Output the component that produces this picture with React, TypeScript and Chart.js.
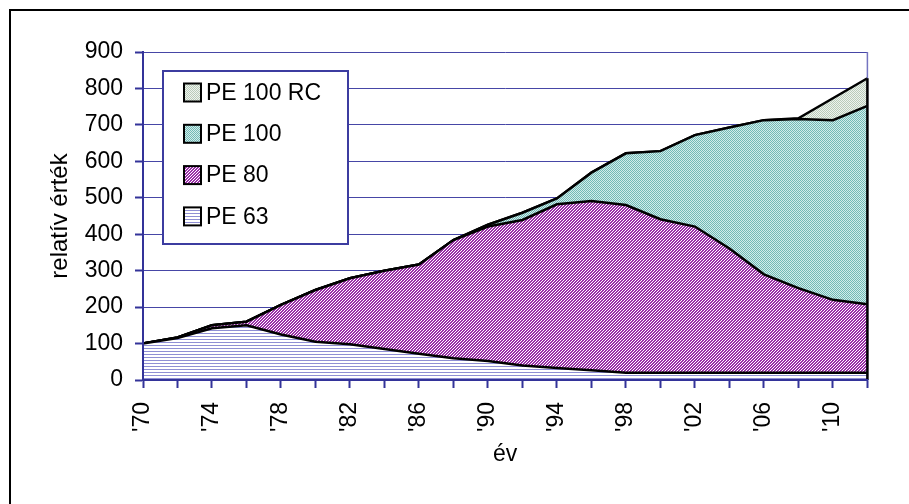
import React, { useEffect, useRef } from "react";
import { Chart, registerables } from "chart.js";

Chart.register(...registerables);

const categories = ["'70", "'72", "'74", "'76", "'78", "'80", "'82", "'84", "'86", "'88", "'90", "'92", "'94", "'96", "'98", "'00", "'02", "'04", "'06", "'08", "'10", "'12"];
const pe63 = [100, 115, 142, 150, 125, 105, 98, 85, 72, 60, 52, 40, 33, 27, 20, 20, 20, 20, 20, 20, 20, 20];
const pe80 = [0, 2, 8, 10, 81, 142, 181, 215, 245, 324, 369, 399, 449, 464, 460, 421, 401, 341, 270, 232, 200, 188];
const pe100 = [0, 0, 0, 0, 0, 0, 0, 0, 0, 0, 5, 20, 16, 78, 142, 187, 251, 332, 423, 464, 493, 544];
const pe100rc = [0, 0, 0, 0, 0, 0, 0, 0, 0, 0, 0, 0, 0, 0, 0, 0, 0, 0, 0, 2, 60, 76];
const seriesNames = ["PE 63", "PE 80", "PE 100", "PE 100 RC"];
const yTickMin = 0;
const yTickMax = 900;
const yTickStep = 100;

const FONT = "'Liberation Sans', Arial, sans-serif";
const AXIS_BLUE = "#333399";

function makePattern(kind: string): CanvasPattern | string {
  const t = document.createElement("canvas");
  const c = t.getContext("2d");
  if (!c) return "#ccc";
  if (kind === "h") {
    t.width = 3; t.height = 3;
    c.fillStyle = "#ffffff"; c.fillRect(0, 0, 3, 3);
    c.fillStyle = "#8f8fd4"; c.fillRect(0, 0, 3, 1);
  } else if (kind === "d") {
    t.width = 3; t.height = 3;
    c.fillStyle = "#ffffff"; c.fillRect(0, 0, 3, 3);
    c.fillStyle = "#9a30a8";
    for (let x = 0; x < 3; x++) for (let y = 0; y < 3; y++) if ((x + y) % 3 !== 0) c.fillRect(x, y, 1, 1);
  } else if (kind === "t") {
    t.width = 2; t.height = 2;
    c.fillStyle = "#d2ecea"; c.fillRect(0, 0, 2, 2);
    c.fillStyle = "#72bab6"; c.fillRect(0, 0, 1, 1); c.fillRect(1, 1, 1, 1);
  } else {
    t.width = 2; t.height = 2;
    c.fillStyle = "#eef3ee"; c.fillRect(0, 0, 2, 2);
    c.fillStyle = "#b9cbb9"; c.fillRect(0, 0, 1, 1); c.fillRect(1, 1, 1, 1);
  }
  return c.createPattern(t, "repeat") || "#ccc";
}

export default function App() {
  const ref = useRef<HTMLCanvasElement>(null);
  useEffect(() => {
    if (!ref.current) return;
    const pats = [makePattern("h"), makePattern("d"), makePattern("t"), makePattern("g")];
    const values = [pe63, pe80, pe100, pe100rc];

    const overlay = {
      id: "overlay",
      afterDatasetsDraw(chart: any) {
        const { ctx, chartArea: a, scales } = chart;
        const xs = scales.x, ys = scales.y;
        ctx.save();
        ctx.strokeStyle = "#7474c0";
        ctx.lineWidth = 1.5;
        ctx.beginPath();
        ctx.moveTo(a.right, a.top);
        ctx.lineTo(a.right, a.bottom);
        ctx.stroke();
        const last = categories.length - 1;
        const total = values.reduce((s, v) => s + v[last], 0);
        ctx.strokeStyle = "#000";
        ctx.lineWidth = 2.5;
        ctx.beginPath();
        ctx.moveTo(xs.getPixelForValue(last), ys.getPixelForValue(0));
        ctx.lineTo(xs.getPixelForValue(last), ys.getPixelForValue(total));
        ctx.stroke();
        ctx.strokeStyle = AXIS_BLUE;
        ctx.lineWidth = 2;
        ctx.beginPath();
        ctx.moveTo(a.left, a.top);
        ctx.lineTo(a.left, a.bottom);
        ctx.moveTo(a.left, a.bottom);
        ctx.lineTo(a.right + 1, a.bottom);
        ctx.stroke();
        ctx.restore();
      },
      afterDraw(chart: any) {
        const { ctx, chartArea: a } = chart;
        ctx.save();
        ctx.fillStyle = "#000";
        ctx.font = `23px ${FONT}`;
        ctx.textAlign = "center";
        ctx.textBaseline = "alphabetic";
        ctx.fillText("év", (a.left + a.right) / 2, 461);
        ctx.save();
        ctx.font = `24px ${FONT}`;
        ctx.translate(67, (a.top + a.bottom) / 2);
        ctx.rotate(-Math.PI / 2);
        ctx.fillText("relatív érték", 0, 0);
        ctx.restore();
        const lx = a.left + 20, ly = a.top + 19, lw = 185, lh = 173;
        ctx.fillStyle = "#fff";
        ctx.fillRect(lx, ly, lw, lh);
        ctx.strokeStyle = "#3c3ca0";
        ctx.lineWidth = 2;
        ctx.strokeRect(lx, ly, lw, lh);
        ctx.font = `23px ${FONT}`;
        ctx.textAlign = "left";
        ctx.textBaseline = "middle";
        for (let i = 0; i < 4; i++) {
          const si = 3 - i;
          const cy = ly + 21.5 + i * 41.3;
          ctx.fillStyle = pats[si];
          ctx.fillRect(lx + 21, cy - 9, 17, 18);
          ctx.strokeStyle = "#000";
          ctx.lineWidth = 2;
          ctx.strokeRect(lx + 21, cy - 9, 17, 18);
          ctx.fillStyle = "#000";
          ctx.fillText(seriesNames[si], lx + 43, cy + 1);
        }
        ctx.restore();
      },
    };

    const chart = new Chart(ref.current, {
      type: "line",
      data: {
        labels: categories,
        datasets: values.map((v, i) => ({
          label: seriesNames[i],
          data: v,
          fill: i === 0 ? "origin" : "-1",
          backgroundColor: pats[i] as any,
          borderColor: "#000",
          borderWidth: 2.5,
          pointRadius: 0,
          tension: 0,
        })),
      },
      options: {
        animation: false,
        responsive: false,
        layout: { padding: { left: 0, top: 52, right: 37, bottom: 0 } },
        plugins: { legend: { display: false }, tooltip: { enabled: false } },
        scales: {
          x: {
            offset: false,
            afterFit: (s: any) => { s.height = 124; },
            grid: { drawOnChartArea: false, drawTicks: true, tickLength: 8, tickColor: AXIS_BLUE, tickWidth: 2 },
            border: { display: true, color: AXIS_BLUE, width: 2 },
            ticks: {
              autoSkip: false,
              minRotation: 90,
              maxRotation: 90,
              padding: 14,
              color: "#000",
              font: { family: FONT, size: 23 },
              callback: (_v: any, idx: number) => (idx % 2 === 0 ? categories[idx] : ""),
            },
          },
          y: {
            stacked: true,
            min: yTickMin,
            max: yTickMax,
            afterFit: (s: any) => { s.width = 143; },
            grid: { color: "#4646a6", lineWidth: 1, tickLength: 8, tickColor: AXIS_BLUE, tickWidth: 2 },
            border: { display: true, color: AXIS_BLUE, width: 2 },
            ticks: { stepSize: yTickStep, padding: 12, color: "#000", font: { family: FONT, size: 23 } },
          },
        },
      },
      plugins: [overlay],
    });
    return () => chart.destroy();
  }, []);

  return (
    <div style={{ position: "fixed", left: 0, top: 0, width: 909, height: 504, background: "#fff", overflow: "hidden" }}>
      <canvas ref={ref} width={909} height={504} style={{ display: "block" }} />
      <div style={{ position: "absolute", left: 9, top: 9, width: 1000, height: 1000, border: "2px solid #000", pointerEvents: "none" }} />
    </div>
  );
}
